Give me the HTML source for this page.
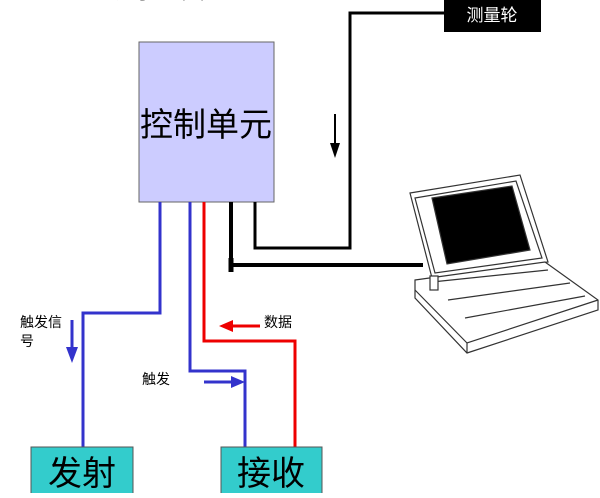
<!DOCTYPE html>
<html><head><meta charset="utf-8"><style>
body{margin:0;background:#fff;width:600px;height:493px;overflow:hidden}
</style></head><body>
<svg width="600" height="493" viewBox="0 0 600 493" xmlns="http://www.w3.org/2000/svg" font-family="'Liberation Sans','Noto Sans CJK SC',sans-serif">
<text x="85" y="-2" font-size="24" fill="#000">系统示意图</text>
<rect x="139" y="42" width="135" height="160" fill="#ccccff" stroke="#666" stroke-width="1"/>
<text x="206" y="136" font-size="33" text-anchor="middle" fill="#000">控制单元</text>
<rect x="444" y="0" width="97" height="32" fill="#000"/>
<text x="492" y="21" font-size="17" text-anchor="middle" fill="#fff">测量轮</text>
<g fill="none" stroke-width="3">
<path d="M160 202 V313 H83 V447" stroke="#3333cc"/>
<path d="M190 202 V371 H245 V447" stroke="#3333cc"/>
<path d="M204 202 V341 H295 V447" stroke="#ee0000"/>
<path d="M231 202 V265 H423" stroke="#000" stroke-width="4"/>
<path d="M255 202 V248 H350 V13 H444" stroke="#000"/>
</g>
<path d="M231 258 V272" stroke="#000" stroke-width="5"/>
<line x1="335" y1="114" x2="335" y2="146" stroke="#000" stroke-width="2"/>
<polygon points="330,143 340,143 335,158" fill="#000"/>
<line x1="72" y1="320" x2="72" y2="350" stroke="#3333cc" stroke-width="3"/>
<polygon points="66,347 78,347 72,363" fill="#3333cc"/>
<line x1="260" y1="326" x2="230" y2="326" stroke="#ee0000" stroke-width="3"/>
<polygon points="233,320 233,332 219,326" fill="#ee0000"/>
<line x1="204" y1="382" x2="234" y2="382" stroke="#3333cc" stroke-width="3"/>
<polygon points="231,376 231,388 245,382" fill="#3333cc"/>
<text x="20" y="327" font-size="14">触发信</text>
<text x="20" y="346" font-size="14">号</text>
<text x="264" y="327" font-size="14">数据</text>
<text x="142" y="384" font-size="14">触发</text>
<rect x="31" y="447" width="102" height="48" fill="#33cccc" stroke="#555"/>
<text x="82" y="485" font-size="34" text-anchor="middle">发射</text>
<rect x="221" y="447" width="101" height="48" fill="#33cccc" stroke="#555"/>
<text x="271" y="485" font-size="34" text-anchor="middle">接收</text>
<!-- laptop -->
<g stroke="#333" stroke-width="1.2" fill="#fff">
<polygon points="410,193 520,175 548,262 432,278"/>
<polygon points="415,198 516,181 542,258 435,273"/>
<polygon points="432,198 512,186 530,250 447,264" fill="#000"/>
<polygon points="415,280 545,262 598,300 598,310 467,353 415,298"/>
<polyline points="415,290 467,343 598,300"/>
<line x1="467" y1="343" x2="467" y2="353"/>
<line x1="432" y1="282" x2="548" y2="270"/>
<line x1="448" y1="300" x2="570" y2="283"/>
<line x1="465" y1="318" x2="585" y2="296"/>
<rect x="430" y="276" width="8" height="14"/>
</g>
</svg>
</body></html>
